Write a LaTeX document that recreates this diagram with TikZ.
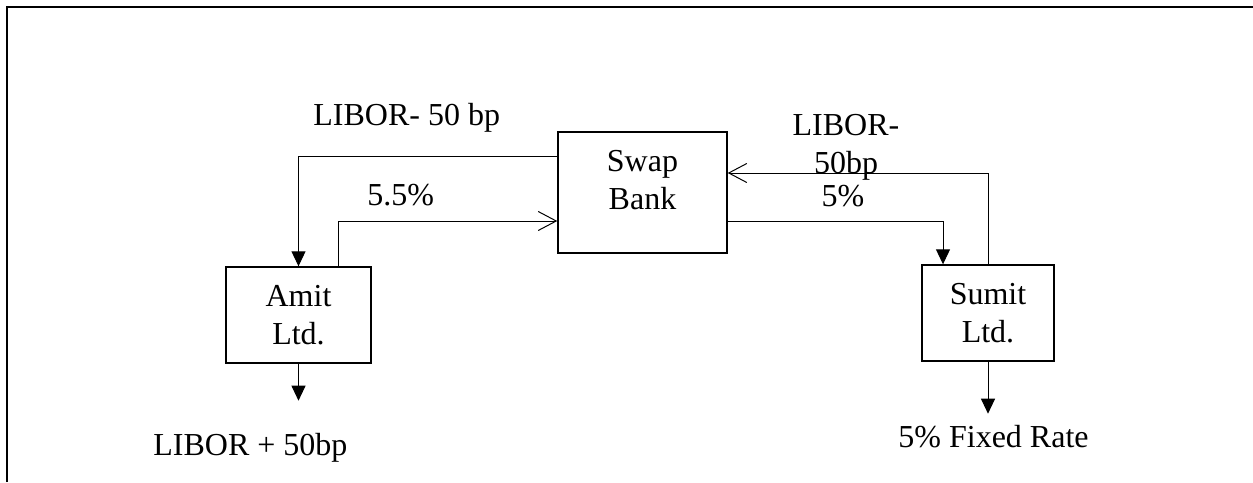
\documentclass[tikz,border=0pt]{standalone}
\usepackage{fontspec}
\setmainfont{Liberation Serif}
\usetikzlibrary{arrows.meta,positioning}

\begin{document}
\begin{tikzpicture}[
  x=0.5pt, y=-0.5pt,
  font=\fontsize{16}{19}\selectfont,
  party/.style={draw, line width=0.7pt, align=center, inner sep=0pt},
  flow/.style={line width=0.5pt},
  pay/.style={flow, -{Triangle[length=7.5pt, width=7pt]}},
  swap/.style={flow, -{Straight Barb[length=9pt, width=9.5pt]}},
  lbl/.style={inner sep=0pt},
]
\useasboundingbox (0,0) rectangle (1253,482);
\draw[line width=1pt] (7,482) -- (7,7) -- (1253,7);
\node[party, minimum width=84.5pt, minimum height=60.5pt] (bank) at (642.5,192.5) {};
\node[lbl, align=center] (banktext) at ([yshift=6.25pt]bank.center) {Swap\\Bank};
\node[party, minimum width=72.5pt, minimum height=48pt] (amit) at (298.5,315) {Amit\\Ltd.};
\node[party, minimum width=66pt, minimum height=48pt] (sumit) at (988,313) {Sumit\\Ltd.};
\coordinate[below=18.5pt of amit.south] (amitpay);
\coordinate[below=26pt of sumit.south] (sumitpay);
\node[lbl, anchor=base west] (amitfloat) at (313,125) {LIBOR- 50 bp};
\node[lbl, anchor=base west] (amitfixed) at (367,205) {5.5\%};
\node[lbl, align=center, anchor=north] (sumitfloat) at (846,114) {LIBOR-\\50bp};
\node[lbl, anchor=base] (sumitfixed) at (843,206) {5\%};
\node[lbl, anchor=base west] (amitmarket) at (153,455) {LIBOR + 50bp};
\node[lbl, anchor=base west] (sumitmarket) at (898,447) {5\% Fixed Rate};
\draw[pay] ([yshift=18.25pt]bank.west) -| (amit.north);
\draw[swap] ([xshift=20pt]amit.north) |- ([yshift=-14.25pt]bank.west);
\draw[swap] (sumit.north) |- ([yshift=9.75pt]bank.east);
\draw[pay] ([yshift=-14.25pt]bank.east) -| ([xshift=-22.5pt]sumit.north);
\draw[pay] (amit.south) -- (amitpay);
\draw[pay] (sumit.south) -- (sumitpay);
\end{tikzpicture}
\end{document}
